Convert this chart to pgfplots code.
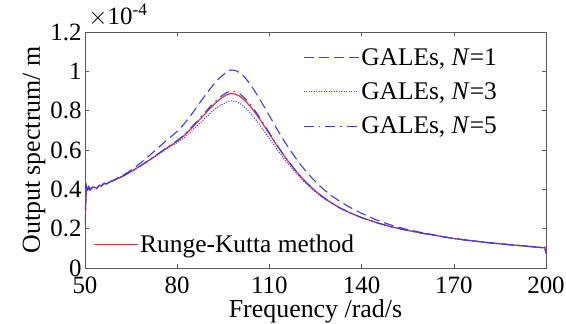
\documentclass[border=0pt]{standalone}
\usepackage{fontspec}
\setmainfont{Liberation Serif}
\usepackage{pgfplots}
\usepackage{pgfplotstable}
\pgfplotsset{compat=1.18}
\definecolor{galeblue}{RGB}{60,60,230}
\definecolor{rkred}{RGB}{232,45,60}
\pgfplotstableread{
x rk n1 n3 n5
50 .220 .220 .220 .220
50.4 .420 .422 .420 .421
50.8 .398 .400 .398 .399
51.2 .412 .413 .411 .412
51.6 .396 .398 .397 .397
52.2 .407 .409 .406 .408
53 .412 .414 .411 .412
53.8 .404 .406 .405 .405
54.6 .420 .421 .419 .420
55.4 .417 .419 .418 .418
56.2 .430 .432 .429 .430
57 .427 .429 .428 .428
58 .437 .439 .436 .437
59 .442 .445 .442 .443
60 .450 .453 .449 .450
62 .465 .469 .464 .465
64 .482 .487 .481 .482
66 .500 .509 .499 .500
68 .519 .533 .518 .519
70 .539 .559 .538 .539
72 .560 .586 .559 .561
74 .582 .614 .580 .583
76 .604 .642 .601 .605
78 .624 .668 .619 .626
80 .645 .695 .638 .648
82 .670 .728 .660 .674
84 .700 .767 .687 .705
86 .732 .810 .716 .738
88 .766 .854 .746 .773
90 .800 .897 .776 .808
92 .832 .935 .804 .841
94 .860 .970 .826 .870
96 .880 .996 .843 .891
97.5 .888 1.007 .850 .900
99 .884 1.004 .847 .896
100.5 .872 .992 .836 .884
102 .852 .969 .817 .863
104 .818 .930 .785 .829
106 .776 .880 .746 .785
108 .730 .828 .703 .737
110 .682 .774 .658 .687
112 .634 .719 .614 .637
114 .588 .666 .571 .590
116 .545 .617 .531 .546
118 .505 .571 .494 .506
120 .468 .528 .460 .468
122 .435 .490 .428 .435
124 .405 .455 .400 .405
126 .378 .423 .375 .378
128 .354 .395 .352 .354
130 .333 .370 .332 .333
133 .305 .338 .305 .305
136 .282 .310 .282 .282
140 .256 .278 .256 .256
145 .230 .243 .230 .230
150 .208 .216 .208 .208
155 .191 .195 .191 .191
160 .176 .179 .176 .176
165 .163 .164 .163 .163
170 .150 .150 .150 .150
175 .140 .140 .140 .140
180 .131 .131 .131 .131
185 .123 .123 .123 .123
190 .116 .116 .116 .116
195 .109 .109 .109 .109
199 .103 .103 .103 .103
199.6 .106 .106 .106 .106
200 .075 .075 .075 .075
}\spectra
\newcommand{\tickfont}{\fontsize{25}{28}\selectfont}
\newcommand{\legfont}{\fontsize{25.5}{28}\selectfont}
\newcommand{\labfont}{\fontsize{26}{29}\selectfont}
\pgfplotsset{
  base/.style={
    scale only axis, width=461bp, height=236bp,
    xmin=50, xmax=200, ymin=0, ymax=1.2,
    at={(0,0)}, anchor=south west,
  }
}
\begin{document}
\begin{tikzpicture}
\useasboundingbox (-85bp,-56bp) rectangle (481bp,268bp);
\begin{axis}[base,
  clip mode=individual,
  axis line style={black!65, line width=0.6pt},
  tick style={black!65, line width=0.5pt},
  tick align=inside, major tick length=4bp,
  xtick={50,80,110,140,170,200},
  ytick={0,0.2,0.4,0.6,0.8,1,1.2},
  yticklabels={0,0.2,0.4,0.6,0.8,1,1.2},
  /pgf/number format/assume math mode=true,
  tick label style={font=\tickfont},
  xticklabel style={yshift=-5bp},
  label style={font=\labfont},
  xlabel={Frequency /rad/s},
  ylabel={Output spectrum/ m},
  xlabel style={yshift=1bp},
  ylabel style={yshift=-2bp},
  legend style={draw=none, font=\legfont, at={(0.017,0.05)}, anchor=south west, inner sep=0pt},
  legend cell align=left,
  legend image code/.code={\draw[rkred, line width=1.2pt] (0bp,0bp) -- (44bp,0bp);},
]
\addplot[rkred, line width=1.2pt] table[x=x, y=rk] {\spectra};
\addlegendentry{Runge-Kutta method}
\node[anchor=base west, font=\tickfont, inner sep=0pt] at (axis description cs:0.007,1.03) {$\times$10\textsuperscript{-4}};
\end{axis}
\begin{axis}[base,
  hide axis,
  legend style={draw=none, font=\legfont, at={(0.473,0.94)}, anchor=north west, inner sep=0pt, row sep=12bp},
  legend cell align=left,
]
\addplot[galeblue, line width=1.1pt, dash pattern=on 10bp off 5bp,
  legend image code/.code={\draw[galeblue, line width=1.1pt, dash pattern=on 10bp off 5bp] (0bp,0bp) -- (55bp,0bp);}]
  table[x=x, y=n1] {\spectra};
\addlegendentry{GALEs, \textit{N}=1}
\addplot[galeblue, line width=1.1pt, dash pattern=on 1bp off 1.5bp,
  legend image code/.code={\draw[galeblue, line width=1.1pt, dash pattern=on 1bp off 1.5bp] (0bp,0bp) -- (55bp,0bp);}]
  table[x=x, y=n3] {\spectra};
\addlegendentry{GALEs, \textit{N}=3}
\addplot[galeblue, line width=1.1pt, dash pattern=on 10bp off 5bp on 1.5bp off 5bp,
  legend image code/.code={\draw[galeblue, line width=1.1pt, dash pattern=on 10bp off 5bp on 1.5bp off 5bp] (0bp,0bp) -- (55bp,0bp);}]
  table[x=x, y=n5] {\spectra};
\addlegendentry{GALEs, \textit{N}=5}
\end{axis}
\end{tikzpicture}
\end{document}
